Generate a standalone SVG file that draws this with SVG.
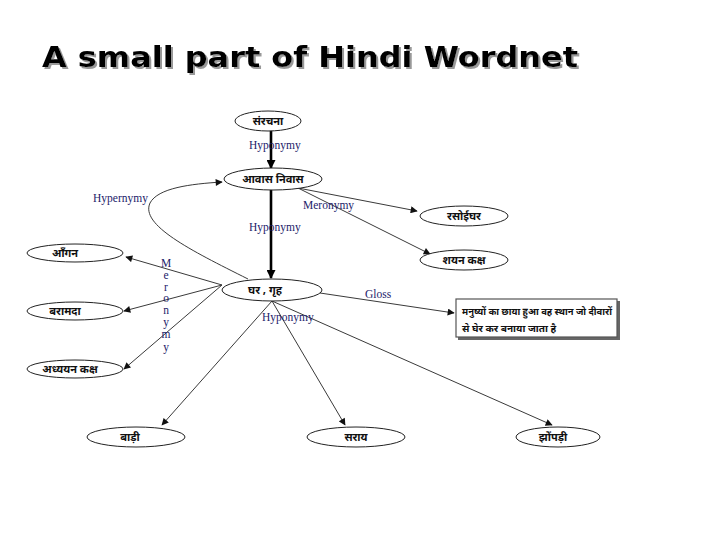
<svg xmlns="http://www.w3.org/2000/svg" width="720" height="540" viewBox="0 0 720 540">
<style>
.title{font-family:"DejaVu Sans",Verdana,sans-serif;font-weight:bold;font-size:28px}
.node ellipse{fill:#fff;stroke:#222;stroke-width:1}
.hi{font-family:"Noto Sans Devanagari","Lohit Devanagari","Mangal","FreeSans","DejaVu Sans",sans-serif;font-weight:bold;font-size:11px;fill:#111;text-anchor:middle}
.gl{font-family:"Noto Sans Devanagari","Lohit Devanagari","Mangal","FreeSans","DejaVu Sans",sans-serif;font-weight:bold;font-size:10px;fill:#111;text-anchor:start}
.lab{font-family:"Liberation Serif","Times New Roman",serif;font-size:11.5px;fill:#1c1c6a}
.thin{fill:none;stroke:#3a3a3a;stroke-width:1}
.thick{fill:none;stroke:#000;stroke-width:2.6}
</style>
<defs>
<marker id="ah" viewBox="0 0 10 10" refX="9" refY="5" markerWidth="8" markerHeight="7" markerUnits="userSpaceOnUse" orient="auto"><path d="M0,0 L10,5 L0,10 z" fill="#111"/></marker>
<marker id="ahb" viewBox="0 0 10 10" refX="9" refY="5" markerWidth="10" markerHeight="9" markerUnits="userSpaceOnUse" orient="auto"><path d="M0,0 L10,5 L0,10 z" fill="#000"/></marker>
<filter id="sh" x="-5%" y="-20%" width="110%" height="150%">
<feOffset in="SourceAlpha" dx="2" dy="2" result="o"/>
<feFlood flood-color="#999"/>
<feComposite in2="o" operator="in" result="s"/>
<feMerge><feMergeNode in="s"/><feMergeNode in="SourceGraphic"/></feMerge>
</filter>
</defs>
<rect width="720" height="540" fill="#fff"/>
<text class="title" x="42" y="67" fill="#000" filter="url(#sh)" textLength="536" lengthAdjust="spacingAndGlyphs">A small part of Hindi Wordnet</text>

<g id="connectors">
<line class="thick" x1="271" y1="130" x2="271" y2="168" marker-end="url(#ahb)"/>
<line class="thick" x1="271" y1="190" x2="271" y2="278" marker-end="url(#ahb)"/>
<path class="thin" d="M248,279 C190,250 140,225 150,203 C158,188 190,184 222,182" marker-end="url(#ah)"/>
<line class="thin" x1="298" y1="188" x2="417" y2="211" marker-end="url(#ah)"/>
<line class="thin" x1="298" y1="188" x2="430" y2="254" marker-end="url(#ah)"/>
<line class="thin" x1="222" y1="285" x2="126" y2="257" marker-end="url(#ah)"/>
<line class="thin" x1="222" y1="285" x2="124" y2="311" marker-end="url(#ah)"/>
<line class="thin" x1="222" y1="285" x2="124" y2="369" marker-end="url(#ah)"/>
<line class="thin" x1="320" y1="293" x2="454" y2="313" marker-end="url(#ah)"/>
<line class="thin" x1="272" y1="301" x2="162" y2="425" marker-end="url(#ah)"/>
<line class="thin" x1="272" y1="301" x2="345" y2="425" marker-end="url(#ah)"/>
<line class="thin" x1="272" y1="301" x2="552" y2="425" marker-end="url(#ah)"/>
<text class="lab" x="249" y="149">Hyponymy</text>
<text class="lab" x="93" y="202">Hypernymy</text>
<text class="lab" x="303" y="209">Meronymy</text>
<text class="lab" x="249" y="231">Hyponymy</text>
<text class="lab" x="262" y="321">Hyponymy</text>
<text class="lab" x="365" y="298">Gloss</text>
<g class="lab" text-anchor="middle">
<text x="166" y="267">M</text><text x="166" y="279">e</text><text x="166" y="291">r</text><text x="166" y="302">o</text><text x="166" y="314">n</text><text x="166" y="326">y</text><text x="166" y="338">m</text><text x="166" y="351">y</text>
</g>
</g>

<g id="n-sanrachana" class="node"><ellipse cx="268" cy="121" rx="33" ry="10"/><text class="hi" x="268" y="125">संरचना</text></g>
<g id="n-aavaas" class="node"><ellipse cx="273" cy="179" rx="49" ry="11"/><text class="hi" x="273" y="183">आवास  निवास</text></g>
<g id="n-ghar" class="node"><ellipse cx="272" cy="290" rx="50" ry="11"/><text class="hi" x="265" y="294">घर , गृह</text></g>
<g id="n-rasoi" class="node"><ellipse cx="464" cy="216" rx="44" ry="10"/><text class="hi" x="464" y="220">रसोईघर</text></g>
<g id="n-shayan" class="node"><ellipse cx="464" cy="260" rx="44" ry="10"/><text class="hi" x="464" y="264">शयन कक्ष</text></g>
<g id="n-aangan" class="node"><ellipse cx="75" cy="253" rx="48" ry="9"/><text class="hi" x="65" y="257">आँगन</text></g>
<g id="n-baramada" class="node"><ellipse cx="75" cy="311" rx="48" ry="9"/><text class="hi" x="65" y="315">बरामदा</text></g>
<g id="n-adhyayan" class="node"><ellipse cx="75" cy="369" rx="48" ry="9"/><text class="hi" x="70" y="373">अध्ययन कक्ष</text></g>
<g id="n-baadi" class="node"><ellipse cx="136" cy="437" rx="49" ry="10"/><text class="hi" x="130" y="441">बाड़ी</text></g>
<g id="n-saraay" class="node"><ellipse cx="356" cy="437" rx="49" ry="10"/><text class="hi" x="356" y="441">सराय</text></g>
<g id="n-jhompadi" class="node"><ellipse cx="558" cy="437" rx="42" ry="10"/><text class="hi" x="553" y="441">झोंपड़ी</text></g>
<g id="n-gloss">
<rect x="458" y="301" width="162" height="39" fill="#666"/>
<rect x="456" y="299" width="161" height="38" fill="#fff" stroke="#555" stroke-width="1.2"/>
<text class="gl" x="462" y="315" textLength="150" lengthAdjust="spacingAndGlyphs">मनुष्यों का छाया हुआ वह स्थान जो दीवारों</text>
<text class="gl" x="462" y="332">से घेर कर बनाया जाता है</text>
</g>
</svg>
